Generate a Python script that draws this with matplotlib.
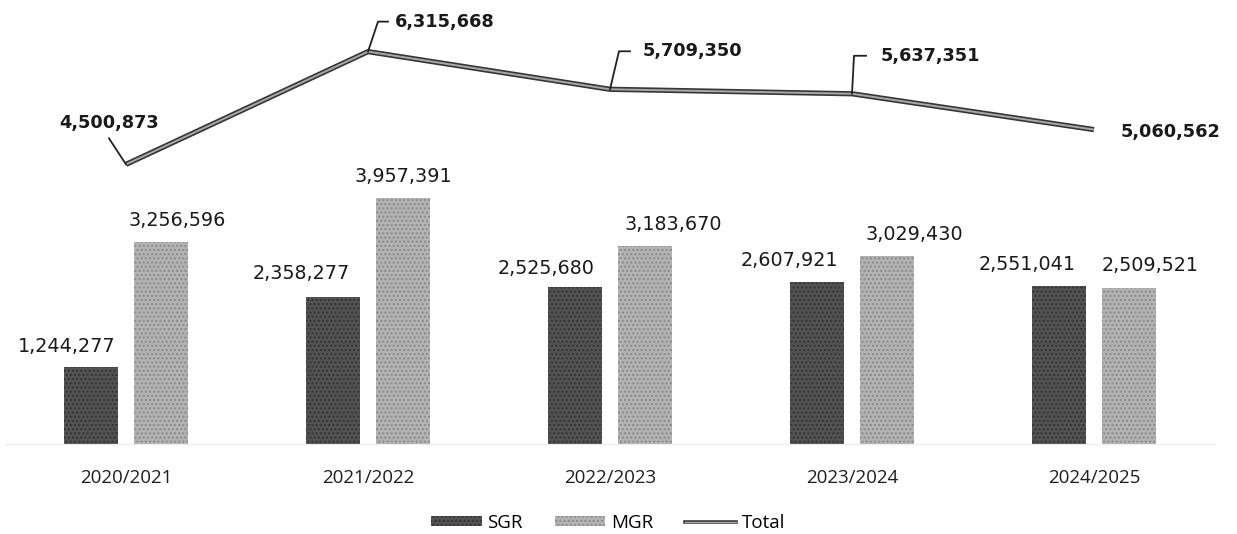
import matplotlib
matplotlib.use("Agg")
import matplotlib.pyplot as plt
import matplotlib.transforms as mtransforms
import matplotlib.patheffects as pe
from matplotlib.lines import Line2D
from matplotlib.patches import Patch
import numpy as np

# ---- data ----
categories = ["2020/2021", "2021/2022", "2022/2023", "2023/2024", "2024/2025"]
sgr = [1244277, 2358277, 2525680, 2607921, 2551041]
mgr = [3256596, 3957391, 3183670, 3029430, 2509521]
total = [4500873, 6315668, 5709350, 5637351, 5060562]

# ---- style ----
W, H, DPI = 1237, 534, 100
sgr_color = "#525252"
mgr_color = "#b3b3b3"
bar_w = 0.223
gap = 0.066

# label offsets in pixels (dx, dy) relative to bar top centre
sgr_lab_off = [(-24, 20), (-32, 24), (-29, 19), (-28, 21), (-32, 21)]
mgr_lab_off = [(16, 21), (0, 22), (28, 22), (27, 21), (21, 23)]
# leader lines for total labels (pixel offsets from data point)
leaders = [
    [(0, 0), (-17, 26)],
    [(0, 0), (10, 30), (20, 30)],
    [(0, 0), (9, 38), (20, 38)],
    [(0, 0), (2, 38), (14, 38)],
    None,
]
total_text = [
    ((-17, 41), "center"),
    ((27, 30), "left"),
    ((33, 38), "left"),
    ((29, 38), "left"),
    ((27, -2), "left"),
]

fig = plt.figure(figsize=(W / DPI, H / DPI), dpi=DPI)
ax_left = 5 / W
ax_right = 1215 / W
ax_bottom = (H - 444) / H
ax_top = (H - 6) / H
ax = fig.add_axes([ax_left, ax_bottom, ax_right - ax_left, ax_top - ax_bottom])

x = np.arange(len(categories))
off = (bar_w + gap) / 2
ax.bar(x - off, sgr, width=bar_w, color=sgr_color, edgecolor="#333333",
       hatch="....", linewidth=0, zorder=2)
ax.bar(x + off, mgr, width=bar_w, color=mgr_color, edgecolor="#8a8a8a",
       hatch="....", linewidth=0, zorder=2)

line_effects = [pe.Stroke(linewidth=3.8, foreground="#363636"), pe.Normal()]
ax.plot(x, total, color="#a8a8a8", linewidth=1.4, zorder=3,
        path_effects=line_effects, solid_capstyle="butt")

ax.set_xlim(-0.5, len(categories) - 0.5)
ax.set_ylim(0, 7050000)

for s in ["top", "right", "left"]:
    ax.spines[s].set_visible(False)
ax.spines["bottom"].set_color("#ececec")
ax.spines["bottom"].set_linewidth(0.8)
ax.set_yticks([])
ax.set_xticks(x)
ax.set_xticklabels(categories, fontsize=13.5, family="Open Sans", color="#1e1e1e")
ax.tick_params(axis="x", length=0, pad=18)

px = 72.0 / DPI  # points per pixel


def fmt(v):
    return f"{v:,}"


for i in range(len(categories)):
    dx, dy = sgr_lab_off[i]
    ax.annotate(fmt(sgr[i]), xy=(x[i] - off, sgr[i]), xytext=(dx * px, dy * px),
                textcoords="offset points", ha="center", va="center",
                fontsize=13.8, family="DejaVu Sans", color="#1a1a1a")
    dx, dy = mgr_lab_off[i]
    ax.annotate(fmt(mgr[i]), xy=(x[i] + off, mgr[i]), xytext=(dx * px, dy * px),
                textcoords="offset points", ha="center", va="center",
                fontsize=13.8, family="DejaVu Sans", color="#1a1a1a")

for i in range(len(categories)):
    base = mtransforms.ScaledTranslation(x[i], total[i], ax.transData)
    t = mtransforms.Affine2D().scale(1.0 / DPI) + fig.dpi_scale_trans + base
    if leaders[i] is not None:
        xs = [p[0] for p in leaders[i]]
        ys = [p[1] for p in leaders[i]]
        ax.add_line(Line2D(xs, ys, transform=t, color="#222222", linewidth=1.3,
                           zorder=4, clip_on=False))
    (tx, ty), ha = total_text[i]
    ax.text(tx, ty, fmt(total[i]), transform=t, ha=ha, va="center",
            fontsize=12.8, fontweight="bold", family="DejaVu Sans",
            color="#1a1a1a", clip_on=False)

handles = [
    Patch(facecolor=sgr_color, edgecolor="#333333", hatch="....", linewidth=0),
    Patch(facecolor=mgr_color, edgecolor="#8a8a8a", hatch="....", linewidth=0),
    Line2D([], [], color="#a8a8a8", linewidth=1.0,
           path_effects=[pe.Stroke(linewidth=2.6, foreground="#363636"), pe.Normal()]),
]
fig.legend(handles, ["SGR", "MGR", "Total"], loc="center",
           bbox_to_anchor=(608 / W, 1 - 523 / H), ncol=3, frameon=False,
           prop={"family": "Open Sans", "size": 13.5}, handlelength=2.7,
           handleheight=0.45, handletextpad=0.3, columnspacing=1.7)

fig.savefig("out.png", dpi=DPI)
